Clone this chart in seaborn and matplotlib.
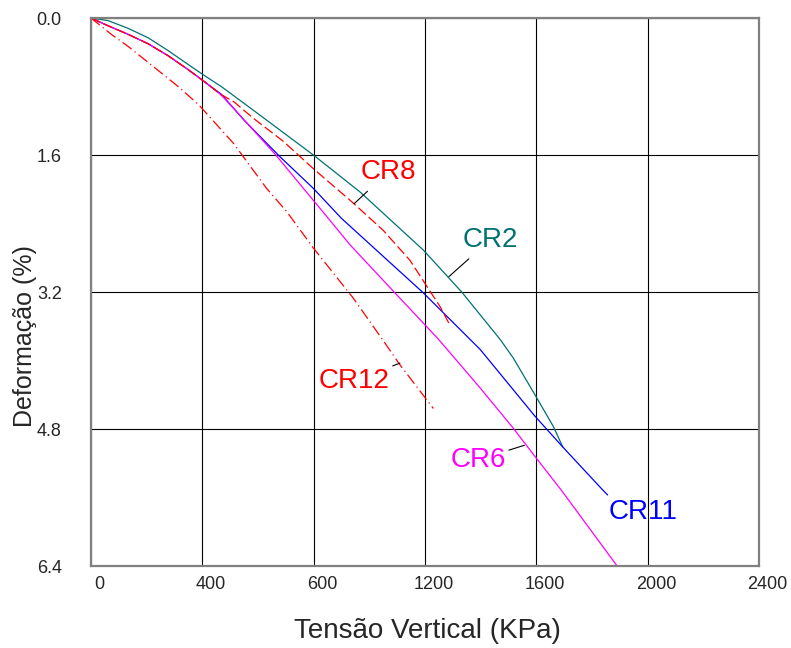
import matplotlib
matplotlib.use('Agg')
import matplotlib.pyplot as plt
import matplotlib.transforms as mtransforms
import seaborn as sns

# curves (tension kPa, strain %)
cr2_x = [0, 61, 133, 205, 277, 348, 402, 468, 564, 799, 966, 1194, 1332, 1469, 1517, 1595, 1661, 1695]
cr2_y = [0, 0.03, 0.12, 0.23, 0.38, 0.54, 0.66, 0.80, 1.03, 1.60, 2.03, 2.71, 3.20, 3.75, 3.97, 4.40, 4.77, 5.01]

cr11_x = [0, 61, 133, 205, 277, 348, 402, 468, 552, 679, 799, 900, 1194, 1398, 1595, 1695, 1835, 1856]
cr11_y = [0, 0.09, 0.19, 0.30, 0.44, 0.60, 0.73, 0.89, 1.20, 1.62, 1.99, 2.34, 3.21, 3.87, 4.65, 5.01, 5.50, 5.57]

cr6_x = [0, 61, 133, 205, 277, 348, 402, 468, 511, 631, 664, 799, 840, 931, 1092, 1248, 1398, 1517, 1595, 1691, 1888]
cr6_y = [0, 0.09, 0.19, 0.30, 0.44, 0.60, 0.73, 0.90, 1.05, 1.48, 1.60, 2.13, 2.29, 2.65, 3.21, 3.75, 4.32, 4.79, 5.12, 5.52, 6.39]

cr8_x = [0, 61, 133, 205, 277, 348, 402, 466, 514, 583, 691, 799, 942, 1050, 1146, 1200, 1254, 1290]
cr8_y = [0, 0.09, 0.19, 0.30, 0.44, 0.60, 0.73, 0.89, 0.98, 1.17, 1.44, 1.76, 2.16, 2.48, 2.83, 3.10, 3.37, 3.59]

cr12_x = [0, 73, 133, 229, 317, 389, 511, 631, 703, 800, 942, 1044, 1110, 1230]
cr12_y = [0, 0.19, 0.33, 0.58, 0.81, 1.02, 1.46, 1.99, 2.26, 2.69, 3.27, 3.74, 4.05, 4.56]

x_ticks = [0, 400, 800, 1200, 1600, 2000, 2400]
x_tick_labels = ['0', '400', '600', '1200', '1600', '2000', '2400']
y_ticks = [0.0, 1.6, 3.2, 4.8, 6.4]

teal = '#007272'

sns.set_style('white')
plt.rcParams['font.family'] = ['Liberation Sans', 'DejaVu Sans']

fig = plt.figure(figsize=(7.91, 6.48), dpi=100)
ax = fig.add_axes([0.1150, 0.1265, 0.8446, 0.8457])

sns.lineplot(x=cr2_x, y=cr2_y, ax=ax, color=teal, lw=0.9, sort=False, estimator=None)
sns.lineplot(x=cr11_x, y=cr11_y, ax=ax, color='#0000ff', lw=0.9, sort=False, estimator=None)
sns.lineplot(x=cr6_x, y=cr6_y, ax=ax, color='#ff00ff', lw=0.9, sort=False, estimator=None)
sns.lineplot(x=cr8_x, y=cr8_y, ax=ax, color='#ff0000', lw=0.9, sort=False, estimator=None,
             linestyle=(0, (8, 3)))
sns.lineplot(x=cr12_x, y=cr12_y, ax=ax, color='#ff0000', lw=0.9, sort=False, estimator=None,
             linestyle=(0, (9, 3, 1, 3)))

ax.set_xlim(0, 2400)
ax.set_ylim(6.4, 0)
ax.set_xticks(x_ticks)
ax.set_xticklabels(x_tick_labels)
ax.set_yticks(y_ticks)
ax.set_yticklabels([f'{v:.1f}' for v in y_ticks])
ax.grid(True, color='black', lw=0.8)
ax.set_axisbelow(True)
ax.tick_params(axis='y', length=0, pad=21, labelsize=13)
ax.tick_params(axis='x', length=0, pad=7, labelsize=13)
offset = mtransforms.ScaledTranslation(6 / 72, 0, fig.dpi_scale_trans)
for lab in ax.get_xticklabels():
    lab.set_transform(lab.get_transform() + offset)
for sp in ax.spines.values():
    sp.set_color('#808080')
    sp.set_linewidth(1.6)

ax.set_xlabel('Tensão Vertical (KPa)', fontsize=20)
ax.set_ylabel('Deformação (%)', fontsize=18)
ax.xaxis.set_label_coords(0.504, -0.095)
ax.yaxis.set_label_coords(-0.081, 0.42)

# curve labels with leader lines
lead = dict(arrowstyle='-', color='black', lw=0.8, shrinkA=3, shrinkB=0)
ax.annotate('CR8', xy=(945, 2.17), xytext=(1067, 1.80), color='#ff0000', fontsize=20,
            ha='center', va='center', arrowprops=lead)
ax.annotate('CR2', xy=(1286, 3.02), xytext=(1434, 2.59), color=teal, fontsize=20,
            ha='center', va='center', arrowprops=lead)
ax.annotate('CR12', xy=(1110, 4.03), xytext=(945, 4.24), color='#ff0000', fontsize=20,
            ha='center', va='center', arrowprops=dict(lead, shrinkA=0))
ax.annotate('CR6', xy=(1557, 4.99), xytext=(1390, 5.16), color='#ff00ff', fontsize=20,
            ha='center', va='center', arrowprops=dict(lead, shrinkA=0))
ax.text(1983, 5.77, 'CR11', color='#0000ff', fontsize=20, ha='center', va='center')

fig.savefig('out.png', dpi=100)
plt.close(fig)
